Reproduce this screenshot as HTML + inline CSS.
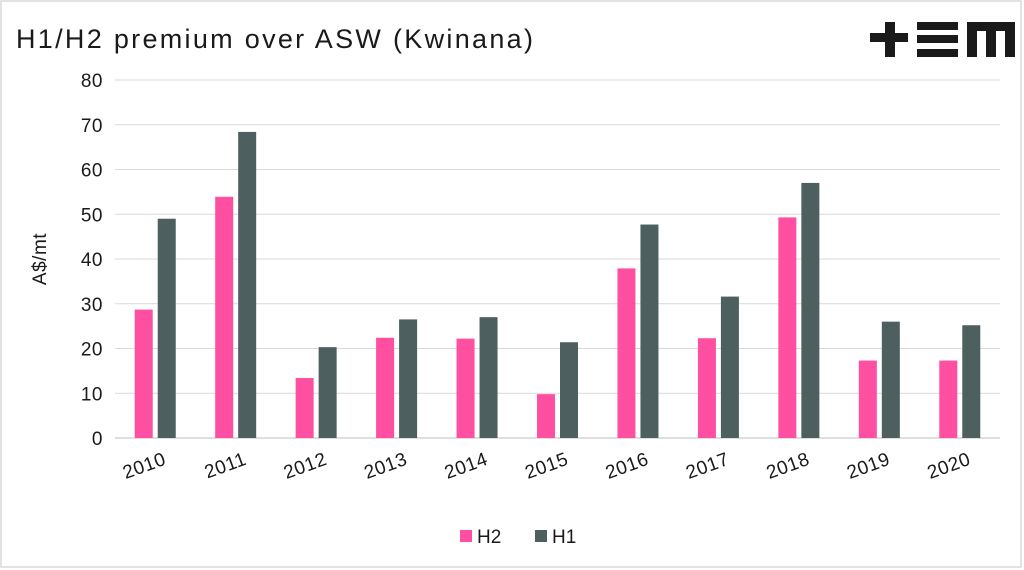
<!DOCTYPE html>
<html><head><meta charset="utf-8"><style>
body{margin:0;background:#fff;}
svg{display:block;font-family:"Liberation Sans",sans-serif;}
</style></head><body>
<svg id="chart" width="1024" height="570" xmlns="http://www.w3.org/2000/svg">
<rect x="1" y="1" width="1020" height="566" fill="#fff" stroke="#d9d9d9" stroke-width="1.5"/>
<text x="16" y="48" font-size="27" letter-spacing="2.3" fill="#1a1a1a">H1/H2 premium over ASW (Kwinana)</text>
<g fill="#1a1a1a">
<rect x="870" y="33" width="38" height="9"/><rect x="885" y="22" width="10" height="35"/>
<rect x="917" y="22" width="41" height="8"/><rect x="917" y="35" width="41" height="8"/><rect x="917" y="49" width="41" height="8"/>
<rect x="967" y="22" width="48" height="9"/><rect x="967" y="22" width="10" height="35"/><rect x="986" y="22" width="10" height="35"/><rect x="1005" y="22" width="10" height="35"/>
</g>
<text transform="translate(46,259) rotate(-90)" text-anchor="middle" font-size="19" letter-spacing="0.5" fill="#1a1a1a">A$/mt</text>
<g id="grid"></g><g id="bars"></g><g id="labels"></g>
<g>
<rect x="460" y="530" width="12" height="12" fill="#ff4fa0"/>
<text x="477" y="543" font-size="19" fill="#1a1a1a">H2</text>
<rect x="535" y="530" width="12" height="12" fill="#4d5f5e"/>
<text x="552" y="543" font-size="19" fill="#1a1a1a">H1</text>
</g>
</svg>
<script>
const categories=["2010","2011","2012","2013","2014","2015","2016","2017","2018","2019","2020"];
const h2Values=[28.7,53.9,13.4,22.4,22.2,9.8,37.9,22.3,49.3,17.3,17.3];
const h1Values=[49,68.4,20.3,26.5,27,21.4,47.7,31.6,57,26,25.2];
const yTicks=[0,10,20,30,40,50,60,70,80];
const NS="http://www.w3.org/2000/svg";
const x0=115,x1=1000,yBase=438,yTop=80,yMax=80;
const y=v=>yBase-(v/yMax)*(yBase-yTop);
const bw=(x1-x0)/categories.length;
const cx=i=>x0+bw*(i+0.5);
function mk(t,a,p){const e=document.createElementNS(NS,t);for(const k in a)e.setAttribute(k,a[k]);p.appendChild(e);return e;}
const grid=document.getElementById('grid'),bars=document.getElementById('bars'),labels=document.getElementById('labels');
yTicks.forEach(v=>{
  const l=mk('line',{x1:x0,x2:x1,y1:y(v),y2:y(v),stroke:v===0?'#bfbfbf':'#d9d9d9','stroke-width':1},grid);
  
  
  const t=mk('text',{x:103,y:y(v)+7,'text-anchor':'end','font-size':19,'letter-spacing':0.5,fill:'#1a1a1a'},labels);
  t.textContent=v;
  
  
});
categories.forEach((c,i)=>{
  const w=18;
  const r2=mk('rect',{x:cx(i)-w-2.5,y:y(h2Values[i]),width:w,height:yBase-y(h2Values[i]),fill:'#ff4fa0'},bars);
  
  
  const r1=mk('rect',{x:cx(i)+2.5,y:y(h1Values[i]),width:w,height:yBase-y(h1Values[i]),fill:'#4d5f5e'},bars);
  
  
  const t=mk('text',{x:cx(i)+12,y:464,'text-anchor':'end','font-size':19,'letter-spacing':0.5,fill:'#1a1a1a',transform:`rotate(-20 ${cx(i)+12} 464)`},labels);
  t.textContent=c;
  
  
});
</script>
</body></html>
